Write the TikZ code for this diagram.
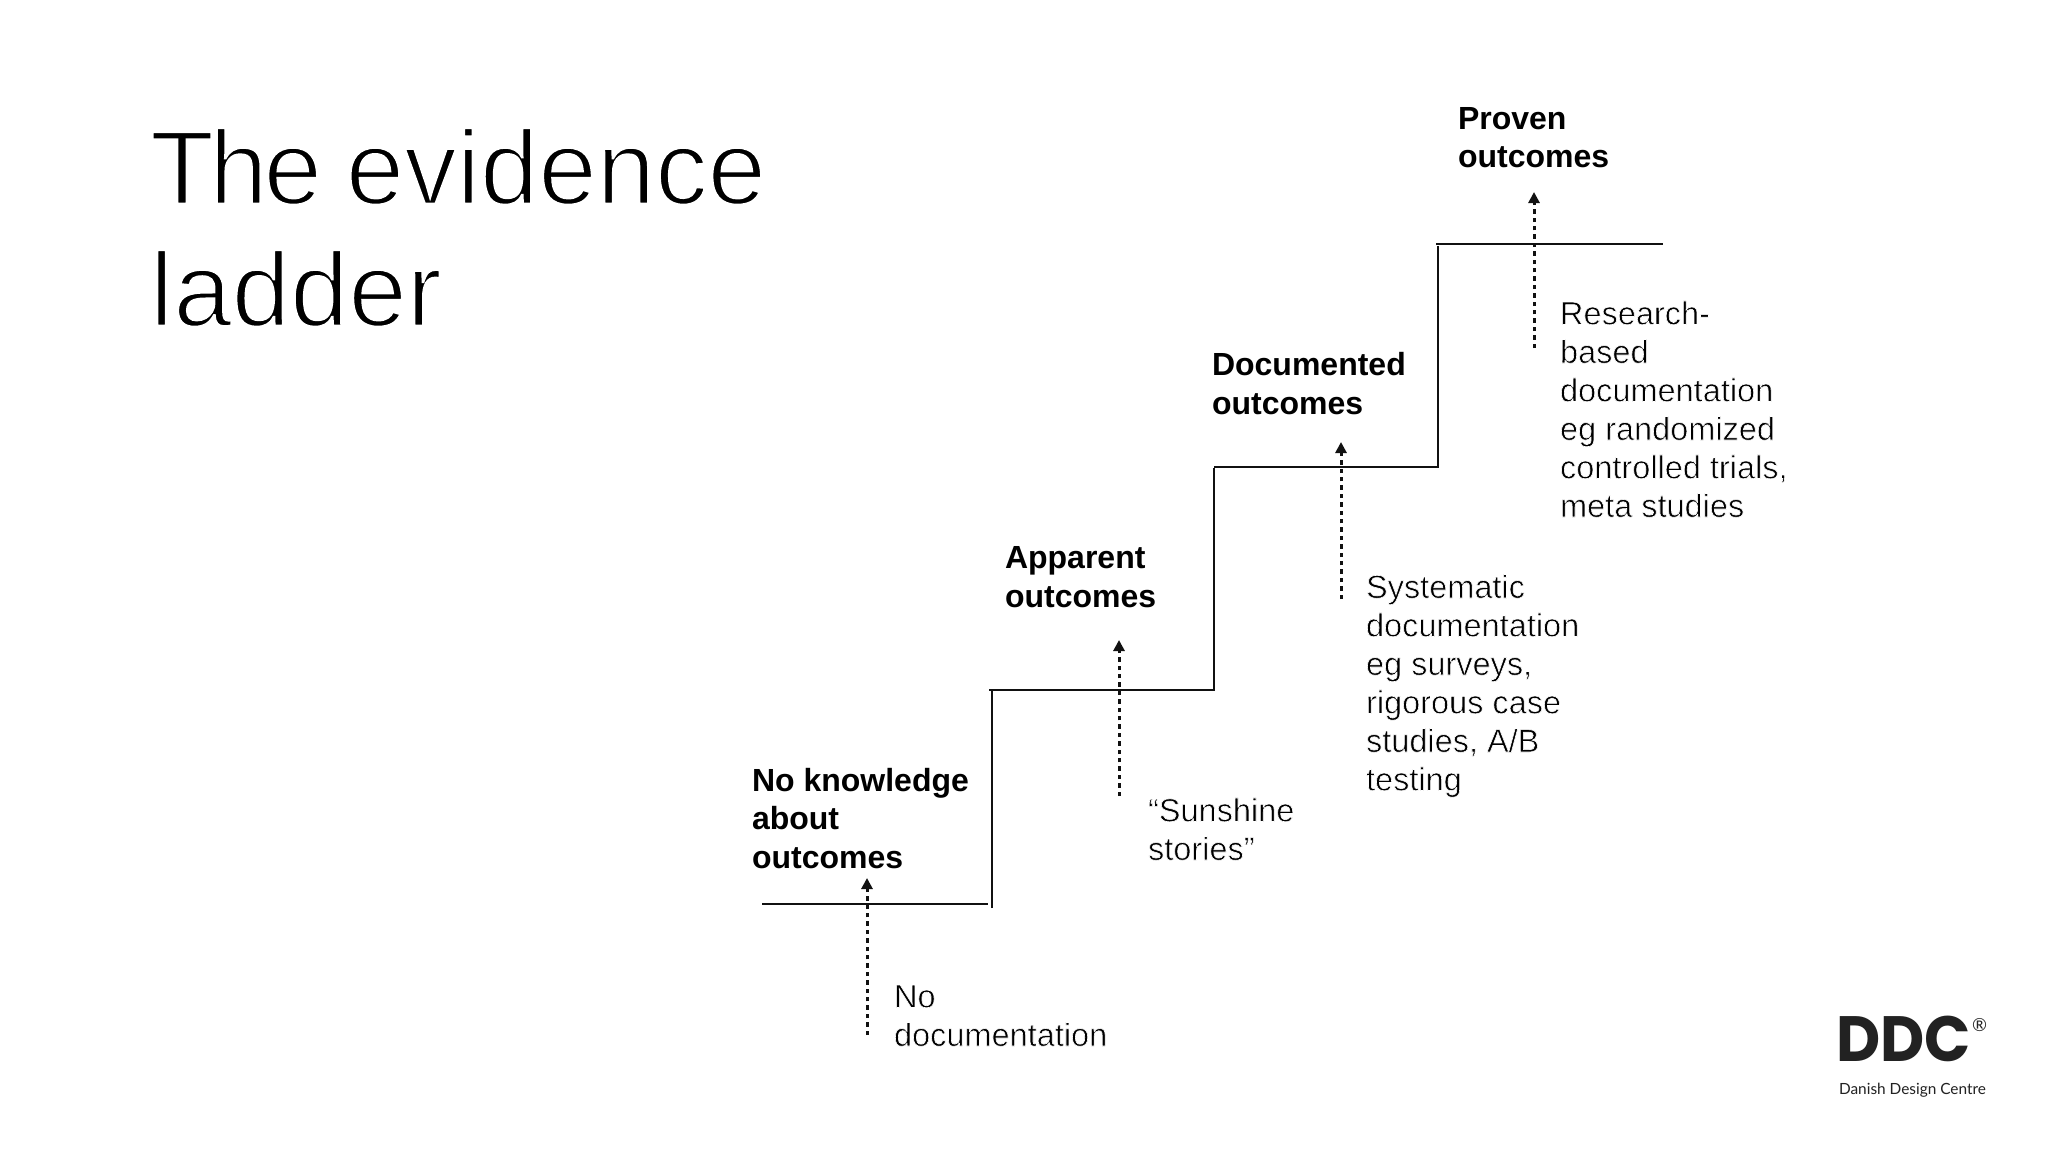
\documentclass[tikz,border=0pt]{standalone}
\usepackage{fontspec}
\usetikzlibrary{arrows.meta}
\setmainfont{Liberation Sans}
\newfontfamily\logofont{Poppins}
\newfontfamily\logosub{Lato}
\newfontfamily\titlefont[WordSpace=0.82]{Liberation Sans}
\newcommand{\thinglyphs}{\special{pdf:code 2 Tr 0.6 w 1 1 1 RG}}
\newcommand{\thintitle}{\special{pdf:code 2 Tr 2.6 w 1 1 1 RG}}
\newcommand{\thinend}{\special{pdf:code 0 Tr 0 w 0 0 0 RG}}
\definecolor{ink}{HTML}{111111}
\definecolor{logoink}{HTML}{222222}
\tikzset{
  x=1pt,y=-1pt,
  lbl/.style={inner sep=0pt,outer sep=0pt,anchor=base west,align=left,text=black},
  headlbl/.style={lbl,font=\fontsize{32}{38.3}\selectfont\bfseries},
  bodylbl/.style={lbl,font=\fontsize{32.5}{38.5}\selectfont},
  titlelbl/.style={lbl,font=\fontsize{105}{122}\selectfont\titlefont},
  stair/.style={draw=ink,line width=2.2pt},
  rise/.style={draw=ink,line width=3pt,dash pattern=on 4.5pt off 3.9pt,-{Triangle[length=11pt,width=11pt]}},
}
\begin{document}
\begin{tikzpicture}
\useasboundingbox (0,0) rectangle (2048,1152);
\fill[white] (0,0) rectangle (2048,1152);
% labels
\node[titlelbl] (title) at (150,326) {\thintitle T\kern-5pt h\kern-4pt e evidence\\ladder\thinend};
\node[headlbl] (h1) at (752,868) {No knowledge\\about\\outcomes};
\node[headlbl] (h2) at (1005,607) {Apparent\\outcomes};
\node[headlbl] (h3) at (1212,414) {Documented\\outcomes};
\node[headlbl] (h4) at (1458,167.5) {Proven\\outcomes};
\node[bodylbl] (b1) at (894,1046) {\thinglyphs No\\documentation\thinend};
\node[bodylbl] (b2) at (1148,860) {\thinglyphs “Sunshine\\stories”\thinend};
\node[bodylbl] (b3) at (1366,790.5) {\thinglyphs Systematic\\documentation\\eg surveys,\\rigorous case\\studies, A/B\\testing\thinend};
\node[bodylbl] (b4) at (1560,517) {\thinglyphs Research-\\based\\documentation\\eg randomized\\controlled trials,\\meta studies\thinend};
% stairs
\coordinate (s1a) at (762,904); \coordinate (s1b) at (988,904);
\coordinate (r1a) at (992,908); \coordinate (r1b) at (992,690);
\coordinate (s2a) at (989,690); \coordinate (s2b) at (1215,690);
\coordinate (r2a) at (1214,690); \coordinate (r2b) at (1214,468);
\coordinate (s3a) at (1214,467); \coordinate (s3b) at (1439,467);
\coordinate (r3a) at (1438,467); \coordinate (r3b) at (1438,246);
\coordinate (s4a) at (1436,244); \coordinate (s4b) at (1663,244);
\draw[stair] (s1a) -- (s1b);
\draw[stair] (r1a) -- (r1b);
\draw[stair] (s2a) -- (s2b);
\draw[stair] (r2a) -- (r2b);
\draw[stair] (s3a) -- (s3b);
\draw[stair] (r3a) -- (r3b);
\draw[stair] (s4a) -- (s4b);
% arrows
\coordinate (a1a) at (867,1035); \coordinate (a1b) at (867,878);
\coordinate (a2a) at (1119,796); \coordinate (a2b) at (1119,640);
\coordinate (a3a) at (1341,599); \coordinate (a3b) at (1341,442);
\coordinate (a4a) at (1534,348); \coordinate (a4b) at (1534,192);
\draw[rise] (a1a) -- (a1b);
\draw[rise] (a2a) -- (a2b);
\draw[rise] (a3a) -- (a3b);
\draw[rise] (a4a) -- (a4b);
% logo
\node[lbl,text=logoink,xscale=.95,font=\fontsize{64}{64}\selectfont\logofont\bfseries] (ddc) at (1836,1061) {DDC};
\node[lbl,text=logoink,font=\fontsize{18}{18}\selectfont\logosub] (reg) at (1972,1031) {®};
\node[lbl,text=logoink,font=\fontsize{15.4}{15.4}\selectfont\logosub] (ddcname) at (1839,1094) {Danish Design Centre};
\end{tikzpicture}
\end{document}
